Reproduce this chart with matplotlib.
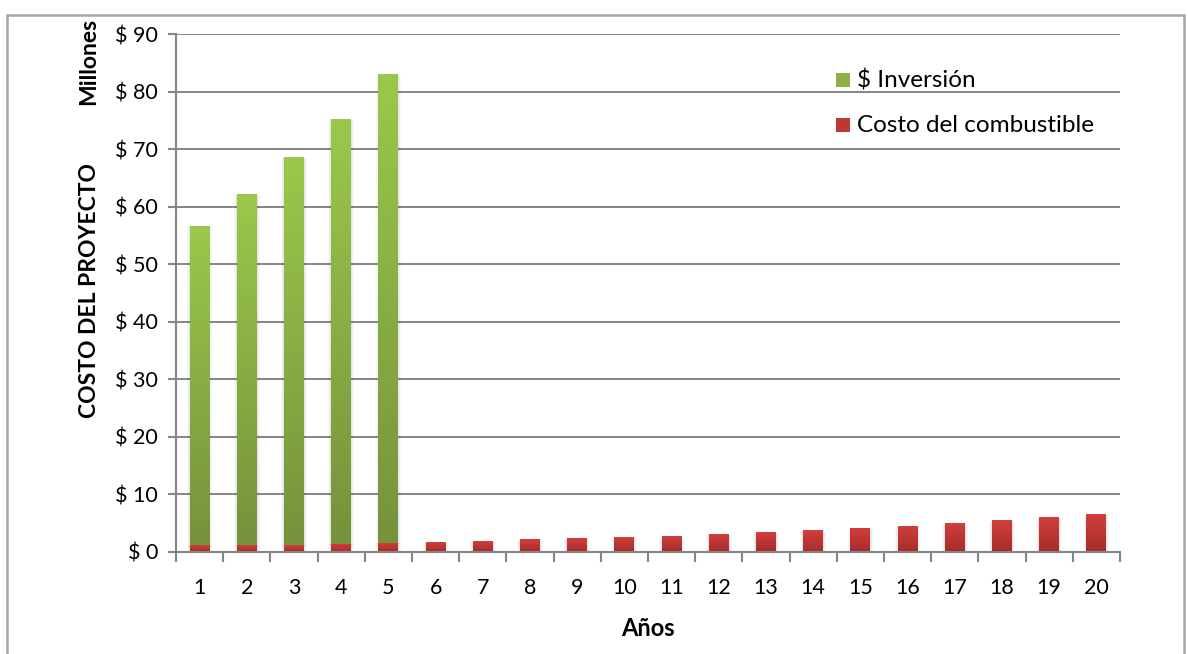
import matplotlib
matplotlib.use("Agg")
import matplotlib.pyplot as plt
import numpy as np
from matplotlib.patches import Rectangle
from matplotlib.colors import LinearSegmentedColormap

plt.rcParams['font.family'] = ['Lato', 'DejaVu Sans']

# Data (millions of pesos)
years = list(range(1, 21))
fuel_cost = [1.1, 1.1, 1.2, 1.4, 1.6, 1.7, 1.85, 2.2, 2.37, 2.55,
             2.72, 3.07, 3.41, 3.76, 4.1, 4.45, 4.97, 5.5, 6.0, 6.53]
investment = [55.6, 61.1, 67.4, 73.8, 81.4, 0, 0, 0, 0, 0,
              0, 0, 0, 0, 0, 0, 0, 0, 0, 0]
y_ticks = [0, 10, 20, 30, 40, 50, 60, 70, 80, 90]
y_tick_labels = [f"$ {v}" for v in y_ticks]
series_labels = ['$ Inversión', 'Costo del combustible']

W, H = 1188, 654
fig = plt.figure(figsize=(W / 100, H / 100), dpi=100)
ax = fig.add_axes([176 / W, 1 - 551.7 / H, (1120 - 176) / W, (551.7 - 34.2) / H])


def fx(px):
    return px / W


def fy(py):
    return 1 - py / H


# outer frame
fig.patches.append(Rectangle((fx(7), -0.05), fx(1184 - 7), 1.05 - 15 / H,
                             transform=fig.transFigure, fill=False,
                             edgecolor='#a6a6a6', linewidth=1.8, zorder=0))

green_cmap = LinearSegmentedColormap.from_list('g', ['#76923c', '#9bc84b'])
red_cmap = LinearSegmentedColormap.from_list('r', ['#a52c2b', '#d13f3c'])
grad = np.linspace(0, 1, 256).reshape(-1, 1)

width = 0.42


def gradient_bar(x, bottom, height, cmap):
    if height <= 0:
        return
    # soft shadow around the bar
    for k, a in [(0.12, 0.025), (0.08, 0.035), (0.04, 0.045)]:
        ax.add_patch(Rectangle((x - width / 2 - k / 2, bottom - 0.25),
                               width + k, height + 0.15,
                               facecolor='#000000', alpha=a, edgecolor='none', zorder=2))
    bar = ax.bar(x, height, width=width, bottom=bottom, color=cmap(0.5),
                 edgecolor='none', zorder=3)[0]
    im = ax.imshow(grad, cmap=cmap, aspect='auto', origin='lower',
                   extent=(x - width / 2, x + width / 2, bottom, bottom + height),
                   zorder=4, interpolation='bilinear')
    im.set_clip_path(bar)


for x, f, inv in zip(years, fuel_cost, investment):
    gradient_bar(x, 0, f, red_cmap)
    gradient_bar(x, f, inv, green_cmap)

ax.set_xlim(0.5, 20.5)
ax.set_ylim(0, 90)
ax.set_yticks(y_ticks)
ax.set_yticklabels(y_tick_labels, fontsize=15.5)
ax.set_xticks(years)
ax.set_xticklabels([str(y) for y in years], fontsize=15.5)
ax.set_xticks(np.arange(0.5, 21, 1), minor=True)
ax.tick_params(axis='x', which='major', length=0, pad=19)
ax.tick_params(axis='x', which='minor', length=7, width=1.5, color='#868686', direction='out')
ax.tick_params(axis='y', length=6, width=1.5, color='#868686', pad=7)

ax.grid(axis='y', color='#868686', linewidth=1.4, zorder=1)
ax.set_axisbelow(True)
for s in ['top', 'right']:
    ax.spines[s].set_visible(False)
for s in ['left', 'bottom']:
    ax.spines[s].set_color('#868686')
    ax.spines[s].set_linewidth(1.5)
    ax.spines[s].set_zorder(5)

fig.text(fx(89), fy(291), 'COSTO DEL PROYECTO', rotation=90, fontsize=16.5,
         fontweight='bold', ha='center', va='center')
fig.text(fx(89), fy(61), 'Millones', rotation=90, fontsize=16.5,
         fontweight='bold', ha='center', va='center')
fig.text(fx(648), fy(628), 'Años', fontsize=17, fontweight='bold',
         ha='center', va='center')

# legend
legend_colors = [green_cmap, red_cmap]
for i, (lab, cm) in enumerate(zip(series_labels, legend_colors)):
    top = 73 + 45 * i
    sq = Rectangle((fx(836), fy(top + 14)), fx(14), 14 / H, transform=fig.transFigure,
                   facecolor=cm(0.6), edgecolor='none')
    fig.patches.append(sq)
    fig.text(fx(857), fy(top + 7), lab, fontsize=17.5, ha='left', va='center')

fig.savefig('out.png', dpi=100, facecolor='white')
